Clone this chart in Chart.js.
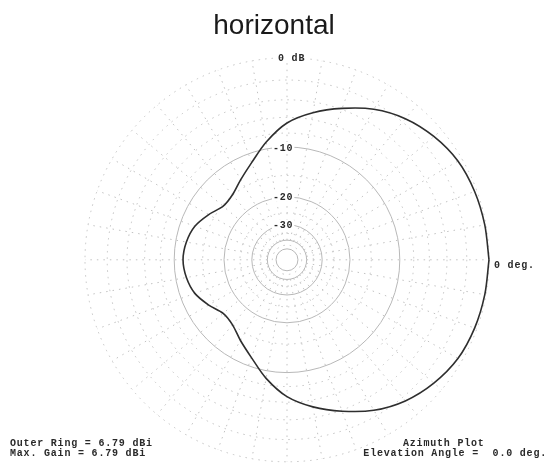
<!DOCTYPE html>
<html>
<head>
<meta charset="utf-8">
<script src="https://cdn.jsdelivr.net/npm/chart.js@4"></script>
<style>
  body { margin: 0; background: #fff; }
  #wrap { position: relative; width: 548px; height: 466px; }
  .note { position: absolute; font: bold 10px "Liberation Mono", monospace; color: #2a2a2a;
          letter-spacing: 0.8px; line-height: 10px; white-space: pre; }
</style>
</head>
<body>
<div id="wrap">
  <canvas id="azimuth"></canvas>
  <div class="note" style="left:10px; top:439px;">Outer Ring = 6.79 dBi<br>Max. Gain = 6.79 dBi</div>
  <div class="note" style="left:403px; top:439px;">Azimuth Plot</div>
  <div class="note" style="right:1px; top:449px;">Elevation Angle =  0.0 deg.</div>
</div>
<script>
// azimuth in degrees (0 = right, counter-clockwise), gain relative to max in dB
const azimuths = [0, 10, 20, 30, 40, 50, 60, 70, 80, 90, 100, 110, 120, 130, 140, 150, 160, 170,
                  180, 190, 200, 210, 220, 230, 240, 250, 260, 270, 280, 290, 300, 310, 320, 330, 340, 350];
const gainDb = [0, -0.1, -0.2, -0.4, -0.9, -1.6, -2.6, -3.9, -5.2, -6.7, -9.0, -11.5, -13.4, -14.9, -15.2, -13.8, -12.4, -11.7,
                -11.4, -11.7, -12.4, -13.8, -15.2, -14.9, -13.3, -11.4, -8.9, -6.7, -5.2, -3.9, -2.6, -1.6, -0.9, -0.4, -0.2, -0.1];

// grid rings (dB) and labels
const solidRings = [-10, -20, -30, -40, -50];
const dottedRings = [0, -2, -4, -6, -8, -15, -25, -35, -45];
const ringLabels = [[0, '0 dB'], [-10, '-10'], [-20, '-20'], [-30, '-30']];
const spokeStep = 10;

// ARRL log scale: each 2 dB is a factor of 0.89
function arrl(db) {
    return Math.pow(0.89, -db / 2);
}

let pts = azimuths.map((a, i) => {
    const r = arrl(gainDb[i]);
    const t = a * Math.PI / 180;
    return {x: r * Math.cos(t), y: r * Math.sin(t)};
});
pts.push(pts[0]); // close the loop

const gridPlugin = {
    id: 'polarGrid',
    beforeDatasetsDraw(chart) {
        const {ctx, scales: {x, y}} = chart;
        const cx = x.getPixelForValue(0), cy = y.getPixelForValue(0);
        const unit = x.getPixelForValue(1) - cx;
        ctx.save();
        ctx.lineWidth = 1;
        ctx.strokeStyle = '#c2c2c2';
        ctx.setLineDash([1.5, 5]);
        for (let a = 0; a < 360; a += spokeStep) {
            const t = a * Math.PI / 180;
            const r0 = arrl(-40) * unit, r1 = unit;
            ctx.beginPath();
            ctx.moveTo(cx + r0 * Math.cos(t), cy - r0 * Math.sin(t));
            ctx.lineTo(cx + r1 * Math.cos(t), cy - r1 * Math.sin(t));
            ctx.stroke();
        }
        dottedRings.forEach(db => {
            ctx.beginPath();
            ctx.arc(cx, cy, arrl(db) * unit, 0, Math.PI * 2);
            ctx.stroke();
        });
        ctx.setLineDash([]);
        ctx.strokeStyle = '#b8b8b8';
        solidRings.forEach(db => {
            ctx.beginPath();
            ctx.arc(cx, cy, arrl(db) * unit, 0, Math.PI * 2);
            ctx.stroke();
        });
        ctx.restore();
    },
    afterDraw(chart) {
        const {ctx, scales: {x, y}} = chart;
        const cx = x.getPixelForValue(0), cy = y.getPixelForValue(0);
        const unit = x.getPixelForValue(1) - cx;
        ctx.save();
        ctx.font = 'bold 10px "Liberation Mono", monospace';
        ctx.letterSpacing = '0.8px';
        ctx.textBaseline = 'middle';
        ringLabels.forEach(([db, txt]) => {
            const ly = cy - arrl(db) * unit;
            const lx = db === 0 ? cx - 9 : cx - 14;
            const w = ctx.measureText(txt).width;
            ctx.fillStyle = '#fff';
            ctx.fillRect(lx - 1, ly - 5, w + 2, 10);
            ctx.fillStyle = '#2a2a2a';
            ctx.fillText(txt, lx, ly + 1);
        });
        ctx.fillText('0 deg.', cx + unit + 5, cy + 6);
        ctx.restore();
    }
};

// plot centre sits at x = 287 px, outer ring radius 202 px
new Chart(document.getElementById('azimuth'), {
    type: 'scatter',
    data: {
        datasets: [{
            data: pts,
            showLine: true,
            borderColor: '#2e2e2e',
            borderWidth: 1.6,
            pointRadius: 0,
            tension: 0.3,
            clip: false
        }]
    },
    options: {
        responsive: true,
        maintainAspectRatio: false,
        animation: false,
        layout: {padding: {left: 0, right: 0, top: 0, bottom: 4}},
        scales: {
            x: {display: false, min: -287 / 202, max: 261 / 202},
            y: {display: false, min: -1, max: 1}
        },
        plugins: {
            legend: {display: false},
            tooltip: {enabled: false},
            title: {
                display: true,
                text: 'horizontal',
                color: '#1a1a1a',
                font: {family: '"Liberation Sans", Arial', size: 28, weight: 'normal'},
                padding: {top: 9, bottom: 15}
            }
        }
    },
    plugins: [gridPlugin]
});
</script>
</body>
</html>
